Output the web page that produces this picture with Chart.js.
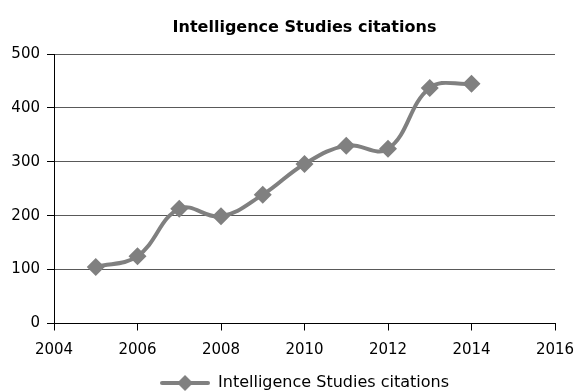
<!DOCTYPE html>
<html>
<head>
<meta charset="utf-8">
<script src="https://cdn.jsdelivr.net/npm/chart.js@4"></script>
<style>
  html, body { margin: 0; padding: 0; background: #fff; }
  #wrap { width: 575px; height: 392px; }
</style>
</head>
<body>
<div id="wrap"><canvas id="c" width="575" height="392"></canvas></div>
<script>
// Citation counts per year
const years = [2005, 2006, 2007, 2008, 2009, 2010, 2011, 2012, 2013, 2014];
const citations = [105, 125, 213, 199, 239, 296, 330, 324, 437, 445];
const seriesName = 'Intelligence Studies citations';
const xTicks = [2004, 2006, 2008, 2010, 2012, 2014, 2016];
const yTicks = [0, 100, 200, 300, 400, 500];

const grey = '#808080';
const fontFamily = "'DejaVu Sans', sans-serif";

// Legend symbol: a short line with a diamond on it
function legendSymbol() {
  const cv = document.createElement('canvas');
  cv.width = 50; cv.height = 18;
  const g = cv.getContext('2d');
  g.strokeStyle = grey; g.lineWidth = 4; g.lineCap = 'round';
  g.beginPath(); g.moveTo(2, 9); g.lineTo(48, 9); g.stroke();
  g.fillStyle = grey;
  g.beginPath(); g.moveTo(25, 1); g.lineTo(33, 9); g.lineTo(25, 17); g.lineTo(17, 9); g.closePath(); g.fill();
  return cv;
}
const symbol = legendSymbol();

new Chart(document.getElementById('c'), {
  type: 'line',
  data: {
    datasets: [{
      label: seriesName,
      data: years.map((y, i) => ({ x: y, y: citations[i] })),
      borderColor: grey,
      backgroundColor: grey,
      borderWidth: 4,
      tension: 0.4,
      pointStyle: 'rectRot',
      pointRadius: 9,
      pointHoverRadius: 9,
      pointBorderWidth: 0,
      pointBackgroundColor: grey
    }]
  },
  options: {
    responsive: false,
    animation: false,
    layout: { padding: { left: 0, right: 20, top: 0, bottom: -9 } },
    plugins: {
      title: {
        display: true,
        text: seriesName,
        fullSize: false,
        color: '#000',
        font: { family: fontFamily, size: 16, weight: 'bold' },
        padding: { top: 18, bottom: 16.8 }
      },
      legend: {
        position: 'bottom',
        fullSize: false,
        labels: {
          usePointStyle: true,
          pointStyleWidth: 50,
          boxHeight: 18,
          color: '#000',
          padding: 0,
          font: { family: fontFamily, size: 16 },
          generateLabels(chart) {
            return chart.data.datasets.map((ds, i) => ({
              text: ds.label,
              pointStyle: symbol,
              fillStyle: grey,
              strokeStyle: grey,
              lineWidth: 0,
              datasetIndex: i,
              fontColor: '#000'
            }));
          }
        }
      },
      tooltip: { enabled: false }
    },
    scales: {
      x: {
        type: 'linear',
        min: 2004,
        max: 2016,
        afterBuildTicks(scale) { scale.ticks = xTicks.map(v => ({ value: v })); },
        afterFit(scale) {
          scale.height = 51.5;
          scale.paddingLeft = 0;
          scale.paddingRight = 0;
        },
        ticks: {
          color: '#000',
          font: { family: fontFamily, size: 15 },
          padding: 11,
          maxRotation: 0,
          callback: v => String(v)
        },
        grid: {
          drawOnChartArea: false,
          drawTicks: true,
          tickLength: 7,
          tickColor: '#000'
        },
        border: { color: '#000', width: 1 }
      },
      y: {
        min: 0,
        max: 500,
        afterBuildTicks(scale) { scale.ticks = yTicks.map(v => ({ value: v })); },
        afterFit(scale) { scale.width = 54; },
        ticks: {
          color: '#000',
          font: { family: fontFamily, size: 15 },
          padding: 7
        },
        grid: {
          color: '#595959',
          lineWidth: 1,
          drawTicks: true,
          tickLength: 7,
          tickColor: '#000'
        },
        border: { color: '#000', width: 1 }
      }
    }
  }
});
</script>
</body>
</html>
